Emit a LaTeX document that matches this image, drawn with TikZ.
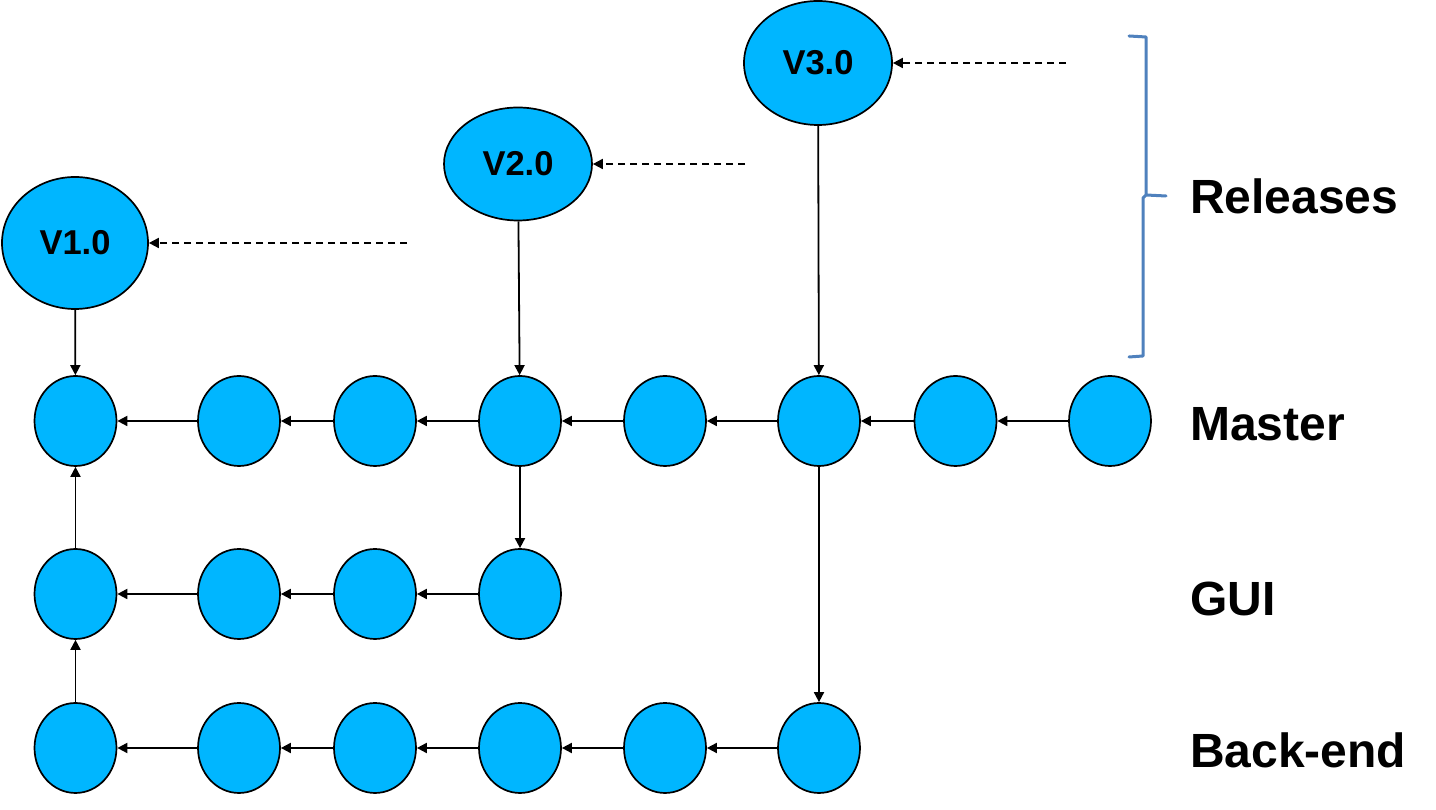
\documentclass[tikz,border=0pt]{standalone}
\usepackage{fontspec}
\setmainfont{Liberation Sans}
\usetikzlibrary{shapes.geometric,arrows.meta}
\definecolor{cfill}{RGB}{0,182,255}
\definecolor{cbrace}{RGB}{79,129,189}
\tikzset{
  commit/.style={ellipse,draw=black,fill=cfill,line width=1.7pt,minimum width=82pt,minimum height=90pt,inner sep=0pt},
  release/.style={ellipse,draw=black,fill=cfill,line width=1.7pt,inner sep=0pt,font=\fontsize{34.5}{36}\selectfont\bfseries},
  link/.style={line width=1.8pt,-{Triangle[length=10pt,width=10pt]}},
  pointer/.style={line width=1.8pt,dash pattern=on 7pt off 5pt,-{Triangle[length=10pt,width=10pt]}},
  lbl/.style={anchor=base west,inner sep=0pt,font=\fontsize{48}{50}\selectfont\bfseries}
}
\begin{document}
\begin{tikzpicture}[x=1pt,y=1pt]
\useasboundingbox (0,0) rectangle (1436,810);
% master row
\node[commit] (M1) at (75.5,389) {};
\node[commit] (M2) at (239,389) {};
\node[commit] (M3) at (375,389) {};
\node[commit] (M4) at (520,389) {};
\node[commit] (M5) at (665,389) {};
\node[commit] (M6) at (819,389) {};
\node[commit] (M7) at (955.5,389) {};
\node[commit] (M8) at (1110,389) {};
% gui row
\node[commit] (G1) at (75.5,216) {};
\node[commit] (G2) at (239,216) {};
\node[commit] (G3) at (375,216) {};
\node[commit] (G4) at (520,216) {};
% back-end row
\node[commit] (B1) at (75.5,62) {};
\node[commit] (B2) at (239,62) {};
\node[commit] (B3) at (375,62) {};
\node[commit] (B4) at (520,62) {};
\node[commit] (B5) at (665,62) {};
\node[commit] (B6) at (819,62) {};
% releases
\node[release,minimum width=146pt,minimum height=132pt] (V1) at (75,567) {V1.0};
\node[release,minimum width=148pt,minimum height=113pt] (V2) at (518,646) {V2.0};
\node[release,minimum width=148pt,minimum height=124pt] (V3) at (818,747) {V3.0};
\coordinate (d1) at (407,567);
\coordinate (d2) at (745,646);
\coordinate (d3) at (1066,747);
\draw[pointer] (d1) -- (V1.east);
\draw[pointer] (d2) -- (V2.east);
\draw[pointer] (d3) -- (V3.east);
\draw[link] (V1) -- (M1);
\draw[link] (V2) -- (M4);
\draw[link] (V3) -- (M6);
% master links
\draw[link] (M2) -- (M1);
\draw[link] (M3) -- (M2);
\draw[link] (M4) -- (M3);
\draw[link] (M5) -- (M4);
\draw[link] (M6) -- (M5);
\draw[link] (M7) -- (M6);
\draw[link] (M8) -- (M7);
% gui links
\draw[link] (G2) -- (G1);
\draw[link] (G3) -- (G2);
\draw[link] (G4) -- (G3);
% back-end links
\draw[link] (B2) -- (B1);
\draw[link] (B3) -- (B2);
\draw[link] (B4) -- (B3);
\draw[link] (B5) -- (B4);
\draw[link] (B6) -- (B5);
% cross links
\draw[link] (G1) -- (M1);
\draw[link] (B1) -- (G1);
\draw[link] (M4) -- (G4);
\draw[link] (M6) -- (B6);
% brace
\draw[cbrace,line width=3pt,line join=round,line cap=round]
  (1129,774) -- (1146,773) -- (1146,615) -- (1166,614)
  (1146,615) -- (1143,612) -- (1143,454) -- (1129,453);
% labels
\node[lbl] (tR) at (1190,596) {Releases};
\node[lbl] (tM) at (1190,369) {Master};
\node[lbl] (tG) at (1190,194) {GUI};
\node[lbl] (tB) at (1190,42) {Back-end};
\end{tikzpicture}
\end{document}
